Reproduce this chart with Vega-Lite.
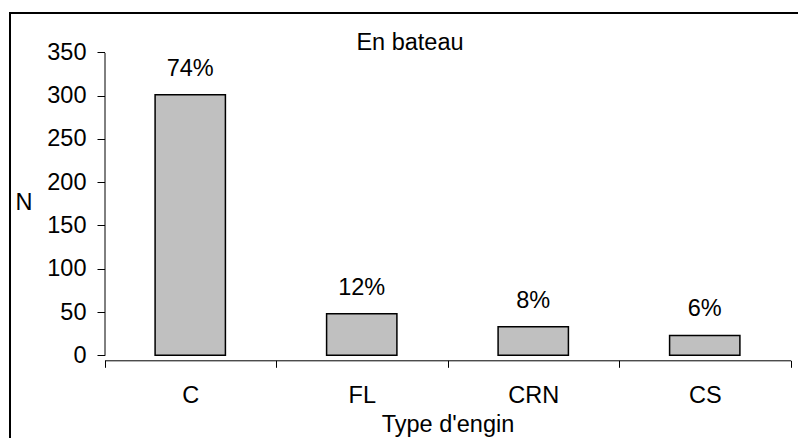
{
  "$schema": "https://vega.github.io/schema/vega-lite/v6.json",
  "autosize": "none",
  "width": 800,
  "height": 440,
  "padding": {"left": 10, "top": 13, "right": 0, "bottom": 0},
  "background": "white",
  "title": {
    "text": "En bateau",
    "anchor": "middle",
    "frame": "group",
    "offset": -60,
    "baseline": "alphabetic",
    "font": "Liberation Sans",
    "fontSize": 23.5,
    "fontWeight": "normal",
    "color": "black"
  },
  "config": {
    "view": {"stroke": "black", "strokeWidth": 2},
    "font": "Liberation Sans",
    "axis": {
      "grid": false,
      "domainColor": "black",
      "tickColor": "black",
      "labelColor": "black",
      "titleColor": "black",
      "labelFont": "Liberation Sans",
      "titleFont": "Liberation Sans",
      "labelFontSize": 23.5,
      "titleFontSize": 23.5,
      "titleFontWeight": "normal"
    }
  },
  "data": {
    "values": [
      {"engin": "C", "N": 301, "pct": "74%"},
      {"engin": "FL", "N": 48, "pct": "12%"},
      {"engin": "CRN", "N": 33, "pct": "8%"},
      {"engin": "CS", "N": 23, "pct": "6%"}
    ]
  },
  "encoding": {
    "x": {
      "field": "engin",
      "type": "nominal",
      "sort": ["C", "FL", "CRN", "CS"],
      "scale": {"range": [94.5, 780.5], "paddingInner": 0, "paddingOuter": 0},
      "axis": {
        "title": "Type d'engin",
        "labelAngle": 0,
        "offset": -92.7,
        "tickBand": "extent",
        "tickExtra": true,
        "tickSize": 7,
        "labelPadding": 35,
        "labelBaseline": "alphabetic",
        "titleY": 71,
        "titleBaseline": "alphabetic"
      }
    },
    "y": {
      "field": "N",
      "type": "quantitative",
      "scale": {"domain": [0, 350], "range": [342.3, 39.4], "nice": false, "zero": true},
      "axis": {
        "title": "N",
        "values": [0, 50, 100, 150, 200, 250, 300, 350],
        "offset": -94.5,
        "tickSize": 7.5,
        "labelPadding": 11,
        "titleAngle": 0,
        "titleX": -81,
        "titleY": 189,
        "titleAlign": "center",
        "titleBaseline": "middle"
      }
    }
  },
  "layer": [
    {
      "mark": {"type": "bar", "width": {"band": 0.41}, "fill": "#C0C0C0", "stroke": "black", "strokeWidth": 1.5}
    },
    {
      "mark": {"type": "text", "dy": -19, "baseline": "alphabetic", "fontSize": 23.5, "font": "Liberation Sans", "color": "black"},
      "encoding": {"text": {"field": "pct"}}
    }
  ]
}
